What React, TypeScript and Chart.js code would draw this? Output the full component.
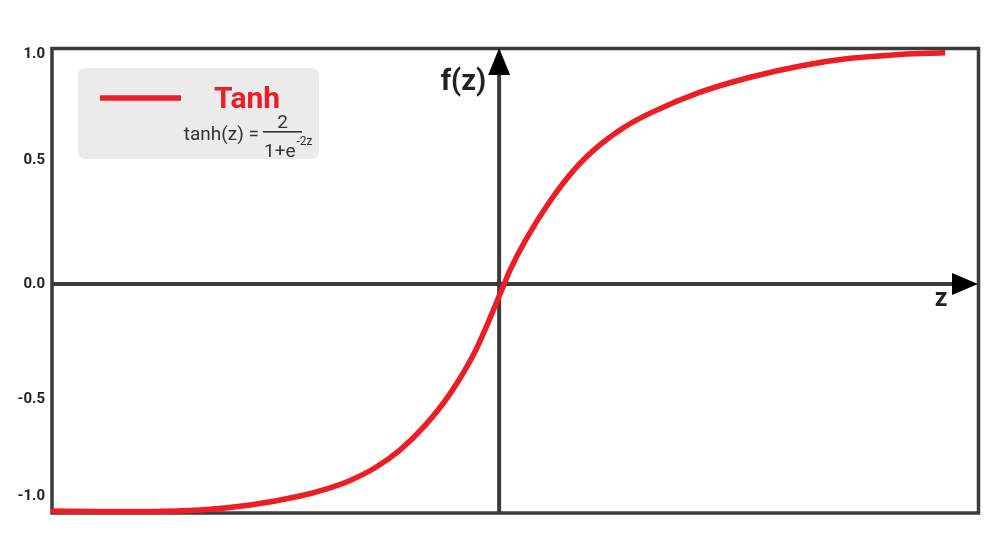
import React, { useEffect, useRef } from 'react';
import { Chart, registerables } from 'chart.js';

Chart.register(...registerables);

// z (x axis) values
const zValues = [-3.5, -3.117, -2.727, -2.336, -1.945, -1.555, -1.359, -1.164, -0.969, -0.773, -0.578, -0.383, -0.188, 0.008, 0.086, 0.203, 0.398, 0.594, 0.789, 0.984, 1.18, 1.57, 1.961, 2.352, 2.742, 3.133, 3.484];
// f(z) values
const fValues = [-0.987, -0.989, -0.989, -0.983, -0.961, -0.922, -0.893, -0.854, -0.799, -0.721, -0.615, -0.477, -0.294, -0.043, 0.061, 0.187, 0.36, 0.501, 0.605, 0.683, 0.742, 0.833, 0.898, 0.947, 0.98, 0.997, 1.004];

const yTickValues = [-1, -0.5, 0, 0.5, 1];
const yTickLabels = ['-1.0', '-0.5', '0.0', '0.5', '1.0'];

const seriesName = 'Tanh';
const xAxisLabel = 'z';
const yAxisLabel = 'f(z)';
const formulaLeft = 'tanh(z) =';
const formulaNumerator = '2';
const formulaDenominator = '1+e';
const formulaExponent = '-2z';

const AXIS_COLOR = '#3b3b3b';
const RED = '#ee1c25';
const TEXT = '#333333';
const FONT = 'Roboto, "Open Sans", sans-serif';

export default function App() {
  const ref = useRef<HTMLCanvasElement | null>(null);

  useEffect(() => {
    const canvas = ref.current;
    if (!canvas) return;

    const overlay = {
      id: 'tanhOverlay',
      beforeDatasetsDraw(chart: any) {
        const { ctx, chartArea: a, scales } = chart;
        const x0 = scales.x.getPixelForValue(0);
        const y0 = scales.y.getPixelForValue(0);
        ctx.save();
        // frame
        ctx.strokeStyle = AXIS_COLOR;
        ctx.lineWidth = 3.5;
        ctx.strokeRect(a.left + 1, a.top + 0.5, a.right - a.left - 0.5, a.bottom - a.top - 1.5);
        // zero axes
        ctx.lineWidth = 4;
        ctx.beginPath();
        ctx.moveTo(a.left, y0);
        ctx.lineTo(a.right - 20, y0);
        ctx.stroke();
        ctx.beginPath();
        ctx.moveTo(x0, a.bottom);
        ctx.lineTo(x0, a.top + 20);
        ctx.stroke();
        // arrow heads
        ctx.fillStyle = '#000';
        ctx.beginPath();
        ctx.moveTo(a.right, y0);
        ctx.lineTo(a.right - 26, y0 - 11);
        ctx.lineTo(a.right - 26, y0 + 11);
        ctx.closePath();
        ctx.fill();
        ctx.beginPath();
        ctx.moveTo(x0, a.top);
        ctx.lineTo(x0 - 11, a.top + 27);
        ctx.lineTo(x0 + 11, a.top + 27);
        ctx.closePath();
        ctx.fill();
        // axis names
        ctx.fillStyle = '#222';
        ctx.font = `bold 29px ${FONT}`;
        ctx.textAlign = 'right';
        ctx.textBaseline = 'middle';
        ctx.fillText(yAxisLabel, x0 - 13, a.top + 35);
        ctx.font = `bold 25px ${FONT}`;
        ctx.textAlign = 'center';
        ctx.fillText(xAxisLabel, a.right - 37, y0 + 16);
        ctx.restore();
      },
      afterDraw(chart: any) {
        const { ctx, chartArea: a } = chart;
        const lx = a.left + 27;
        const ly = a.top + 20;
        const w = 241;
        const h = 91;
        ctx.save();
        ctx.fillStyle = '#ebebeb';
        ctx.beginPath();
        (ctx as any).roundRect(lx, ly, w, h, 7);
        ctx.fill();
        // sample line
        ctx.strokeStyle = RED;
        ctx.lineWidth = 5.5;
        ctx.lineCap = 'butt';
        ctx.beginPath();
        ctx.moveTo(lx + 22, ly + 30);
        ctx.lineTo(lx + 103, ly + 30);
        ctx.stroke();
        // series name
        ctx.fillStyle = RED;
        ctx.font = `bold 30px ${FONT}`;
        ctx.textAlign = 'left';
        ctx.textBaseline = 'alphabetic';
        ctx.fillText(seriesName, lx + 136, ly + 40);
        // formula
        ctx.fillStyle = TEXT;
        ctx.font = `19px ${FONT}`;
        ctx.textAlign = 'right';
        ctx.fillText(formulaLeft, lx + 181, ly + 72);
        const barL = lx + 185;
        const barR = lx + 224;
        ctx.textAlign = 'center';
        ctx.fillText(formulaNumerator, (barL + barR) / 2, ly + 60);
        ctx.fillRect(barL, ly + 63, barR - barL, 1.6);
        ctx.textAlign = 'left';
        ctx.fillText(formulaDenominator, barL + 1, ly + 89);
        const dw = ctx.measureText(formulaDenominator).width;
        ctx.font = `12px ${FONT}`;
        ctx.fillText(formulaExponent, barL + 1 + dw + 1, ly + 77);
        ctx.restore();
      },
    };

    const chart = new Chart(canvas, {
      type: 'line',
      data: {
        datasets: [
          {
            label: seriesName,
            data: zValues.map((z, i) => ({ x: z, y: fValues[i] })),
            borderColor: RED,
            backgroundColor: RED,
            borderWidth: 5.5,
            pointRadius: 0,
            pointHoverRadius: 0,
            cubicInterpolationMode: 'monotone',
            fill: false,
            clip: false as any,
          },
        ],
      },
      options: {
        animation: false,
        responsive: true,
        maintainAspectRatio: false,
        layout: { padding: { top: 48, right: 22, bottom: 27, left: 0 } },
        plugins: {
          legend: { display: false },
          tooltip: { enabled: false },
        },
        scales: {
          x: { type: 'linear', min: -3.5, max: 3.74, display: false },
          y: {
            type: 'linear',
            min: -1,
            max: 1.025,
            afterFit: (s: any) => {
              s.width = 51;
              s.paddingTop = 0;
              s.paddingBottom = 0;
            },
            afterBuildTicks: (s: any) => {
              s.ticks = yTickValues.map((v) => ({ value: v }));
            },
            grid: { display: false, drawTicks: false },
            border: { display: false },
            ticks: {
              padding: 6,
              color: '#222',
              font: { family: FONT, size: 15, weight: 'bold' },
              callback: (v: any) => {
                const t = yTickLabels[yTickValues.indexOf(Number(v))] ?? String(v);
                if (Number(v) === -1) return [t, '', ''];
                if (Number(v) === 0.5) return [t, ''];
                return t;
              },
            },
          },
        },
      },
      plugins: [overlay],
    } as any);

    return () => chart.destroy();
  }, []);

  return (
    <div style={{ position: 'fixed', left: 0, top: 0, width: 1000, height: 541, background: '#fff' }}>
      <canvas ref={ref} />
    </div>
  );
}
